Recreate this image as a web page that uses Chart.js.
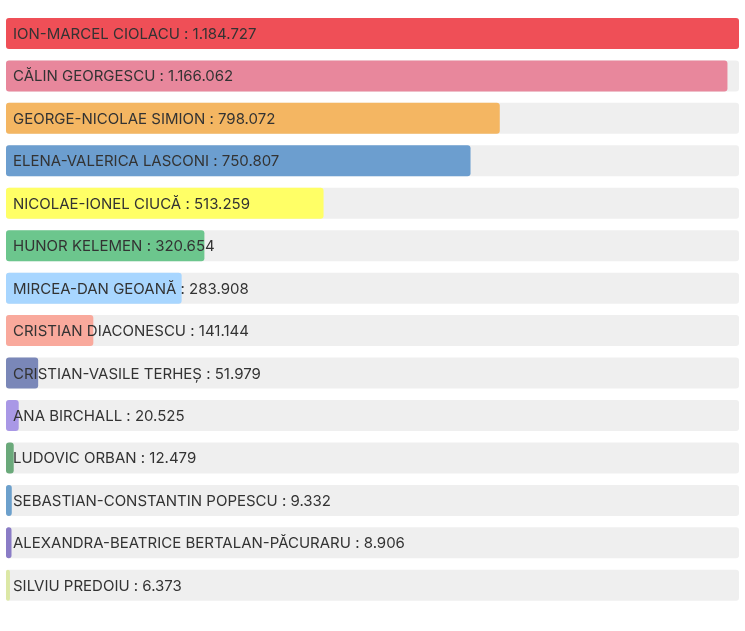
<!DOCTYPE html>
<html>
<head>
<meta charset="utf-8">
<script src="https://cdn.jsdelivr.net/npm/chart.js@4"></script>
<style>
  html, body { margin: 0; padding: 0; background: #fff; }
  canvas { display: block; }
</style>
</head>
<body>
<canvas id="chart" width="745" height="631"></canvas>
<script>
var names = [
  'ION-MARCEL CIOLACU', 'CĂLIN GEORGESCU', 'GEORGE-NICOLAE SIMION',
  'ELENA-VALERICA LASCONI', 'NICOLAE-IONEL CIUCĂ', 'HUNOR KELEMEN',
  'MIRCEA-DAN GEOANĂ', 'CRISTIAN DIACONESCU', 'CRISTIAN-VASILE TERHEȘ',
  'ANA BIRCHALL', 'LUDOVIC ORBAN', 'SEBASTIAN-CONSTANTIN POPESCU',
  'ALEXANDRA-BEATRICE BERTALAN-PĂCURARU', 'SILVIU PREDOIU'
];
var votes = [1184727, 1166062, 798072, 750807, 513259, 320654, 283908,
  141144, 51979, 20525, 12479, 9332, 8906, 6373];
var colors = ['#ef4f57', '#e8879c', '#f4b662', '#6c9ecf', '#ffff66', '#6cc68d',
  '#a8d6ff', '#f9a99c', '#7a87b8', '#a998e6', '#6aa97a', '#6ca0cc', '#8a7cc6', '#dce8a6'];

var maxVotes = Math.max.apply(null, votes);
var track = votes.map(function () { return maxVotes; });

function fmt(n) {
  return String(n).replace(/\B(?=(\d{3})+(?!\d))/g, '.');
}

// scrie eticheta peste fiecare bara
var labelPlugin = {
  id: 'barLabels',
  afterDatasetsDraw: function (chart) {
    var ctx = chart.ctx;
    var meta = chart.getDatasetMeta(1);
    ctx.save();
    ctx.font = '15px Inter, "Noto Sans", sans-serif';
    ctx.fillStyle = '#333333';
    ctx.textBaseline = 'middle';
    ctx.textAlign = 'left';
    for (var i = 0; i < meta.data.length; i++) {
      var bar = meta.data[i];
      var x0 = chart.scales.x.getPixelForValue(0);
      ctx.fillText(names[i] + ' : ' + fmt(votes[i]), x0 + 7, bar.y + 1);
    }
    ctx.restore();
  }
};

new Chart(document.getElementById('chart'), {
  type: 'bar',
  data: {
    labels: names,
    datasets: [{
      data: track,
      backgroundColor: '#efefef',
      borderRadius: 3,
      borderSkipped: false,
      grouped: false,
      order: 2
    }, {
      data: votes,
      backgroundColor: colors,
      borderRadius: 3,
      borderSkipped: false,
      grouped: false,
      order: 1
    }]
  },
  options: {
    responsive: false,
    animation: false,
    indexAxis: 'y',
    layout: { padding: { left: 6, right: 6, top: 12.25, bottom: 24.5 } },
    datasets: { bar: { barPercentage: 0.73, categoryPercentage: 1 } },
    scales: {
      x: { display: false, min: 0, max: maxVotes },
      y: { display: false }
    },
    plugins: {
      legend: { display: false },
      tooltip: { enabled: false }
    }
  },
  plugins: [labelPlugin]
});
</script>
</body>
</html>
